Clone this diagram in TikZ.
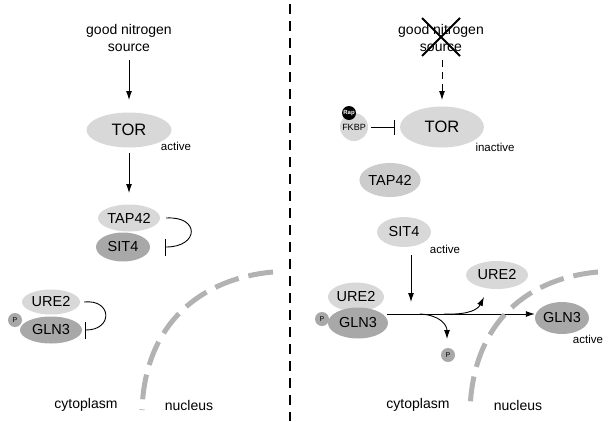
\documentclass[tikz,border=0pt]{standalone}
\usepackage{fontspec}
\setmainfont{Liberation Sans}
\usetikzlibrary{shapes.geometric,arrows.meta}
\definecolor{lightprot}{RGB}{216,216,216}
\definecolor{midprot}{RGB}{204,204,204}
\definecolor{darkprot}{RGB}{168,168,168}
\definecolor{membrane}{RGB}{178,178,178}
\tikzset{
  prot/.style={ellipse,inner sep=0pt,font=\fontsize{14.5}{16}\selectfont},
  lightp/.style={prot,fill=lightprot},
  darkp/.style={prot,fill=darkprot},
  phos/.style={circle,fill=darkprot,minimum size=14pt,inner sep=0pt,font=\fontsize{7}{8}\selectfont},
  lbl/.style={font=\fontsize{14}{16.5}\selectfont,align=center,inner sep=0pt},
  small/.style={font=\fontsize{11.5}{13}\selectfont,inner sep=0pt},
  act/.style={-{Latex[length=9pt,width=6pt]},line width=0.9pt},
  inh/.style={-{Bar[width=17pt,line width=1.2pt]},line width=0.9pt},
  memb/.style={line width=5pt,membrane,dash pattern=on 25pt off 10pt},
}
\begin{document}
\begin{tikzpicture}[x=1pt,y=-1pt]
\useasboundingbox (0,0) rectangle (611,421);
% divider
\draw[line width=1.2pt,dash pattern=on 10pt off 7pt] (290,4) coordinate (d0) -- (290,421) coordinate (d1);

% ---------- left panel ----------
\node[lbl] (src1) at (129,38) {good nitrogen\\source};
\node[lightp,minimum width=85pt,minimum height=35pt,font=\fontsize{16.5}{18}\selectfont] (tor1) at (129,130) {TOR};
\node[small] (act1) at (176,146) {active};
\draw[act] (129,60) coordinate (s1) -- (129,100) coordinate (t1);
\draw[act] (129,153) coordinate (s2) -- (129,193) coordinate (t2);
\node[lightp,minimum width=62pt,minimum height=27pt] (tap1) at (129,218) {TAP42};
\node[darkp,minimum width=54pt,minimum height=29pt] (sit1) at (123,247) {SIT4};
\draw[inh] ([xshift=6pt]tap1.east) .. controls +(34,-2) and +(34,0) .. ([xshift=15pt]sit1.east);

\node[lightp,minimum width=58pt,minimum height=25pt] (ure1) at (51,302) {URE2};
\node[phos] (p1) at (15,320) {P};
\node[darkp,minimum width=62pt,minimum height=27pt] (gln1) at (51,330) {GLN3};
\draw[inh] ([xshift=4pt]ure1.east) .. controls +(28,-3) and +(28,0) .. ([xshift=3pt]gln1.east);

\draw[memb] (273,272) coordinate (ma) .. controls (205,278) and (145,320) .. (142,410) coordinate (mb);
\node[lbl] (cyt1) at (86,405) {cytoplasm};
\node[lbl] (nuc1) at (189,405) {nucleus};

% ---------- right panel ----------
\node[lbl] (src2) at (441,38) {good nitrogen\\source};
\draw[line width=1.8pt] (422,18) coordinate (x1) -- (460,56) coordinate (x2);
\draw[line width=1.8pt] (460,18) coordinate (x3) -- (422,56) coordinate (x4);
\node[lightp,minimum width=84pt,minimum height=41pt,font=\fontsize{16.5}{18}\selectfont] (tor2) at (442,127) {TOR};
\node[small] (inact) at (495,147) {inactive};
\draw[act,dash pattern=on 7pt off 5pt] (442,60) coordinate (s3) -- (442,100) coordinate (t3);

\node[circle,fill=lightprot,minimum size=28pt,inner sep=0pt,font=\fontsize{9}{10}\selectfont] (fkbp) at (354,127) {FKBP};
\node[circle,fill=black,text=white,minimum size=14pt,inner sep=0pt,font=\bfseries\fontsize{6}{7}\selectfont] (rap) at (349,113) {Rap};
\draw[-{Bar[width=15pt,line width=1.2pt]},line width=0.9pt] ([xshift=3pt]fkbp.east) -- ([xshift=-5pt]tor2.west);

\node[prot,fill=midprot,minimum width=60pt,minimum height=34pt] (tap2) at (390,180) {TAP42};
\node[lightp,minimum width=54pt,minimum height=30pt] (sit2) at (404,232) {SIT4};
\node[small] (act2) at (445,249) {active};
\draw[act] (411,255) coordinate (s4) -- (411,302) coordinate (t4);

\node[lightp,minimum width=56pt,minimum height=29pt] (ure2) at (356,297) {URE2};
\node[phos] (p2) at (322,319) {P};
\node[darkp,minimum width=60pt,minimum height=31pt] (gln2) at (358,323) {GLN3};

\node[lightp,minimum width=62pt,minimum height=28pt] (ure3) at (497,275) {URE2};
\node[darkp,minimum width=54pt,minimum height=32pt] (gln3) at (562,318) {GLN3};
\node[small] (act3) at (588,339) {active};
\node[phos] (p3) at (448,355) {P};

\coordinate (m0) at (387,314);
\coordinate (u3) at (484,297);
\coordinate (pt3) at (447,339);
\draw[act] (m0) -- (m0 -| gln3.west);
\draw[act] (444,314) .. controls (470,315) and (478,309) .. (u3);
\draw[act] (420,314) .. controls (440,315) and (447,325) .. (pt3);

\draw[memb] (598,272) coordinate (mc) .. controls (530,278) and (473,320) .. (470,410) coordinate (md);
\node[lbl] (cyt2) at (418,405) {cytoplasm};
\node[lbl] (nuc2) at (518,405) {nucleus};
\end{tikzpicture}
\end{document}
